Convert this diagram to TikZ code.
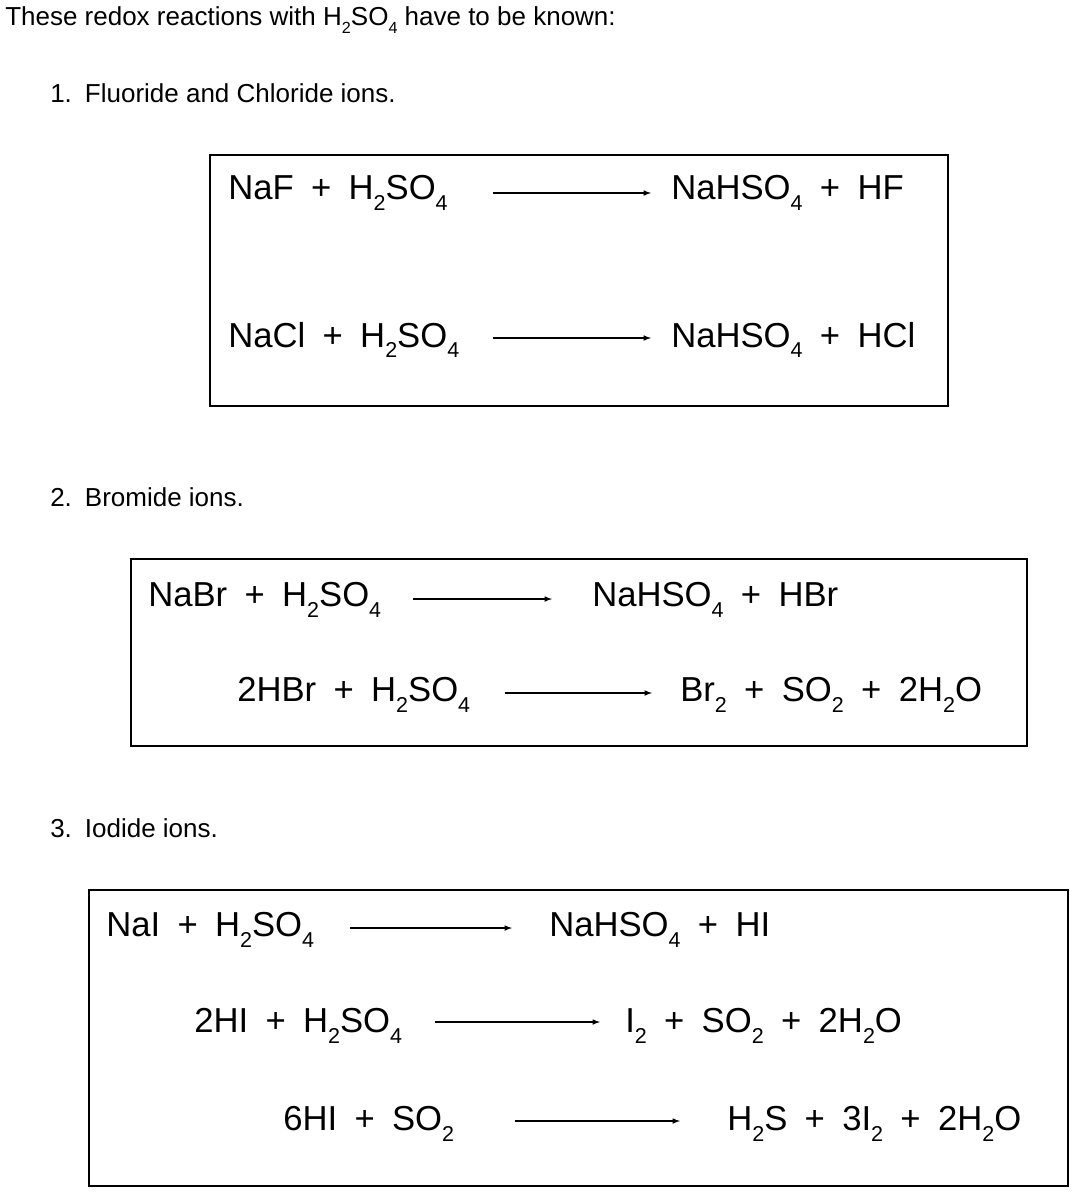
\documentclass[tikz,border=0pt]{standalone}
\usepackage{fontspec}
\setmainfont{Liberation Sans}
\newcommand\dn[1]{\raisebox{-0.3em}{\fontsize{0.62em}{0.7em}\selectfont #1}}
\begin{document}
\begin{tikzpicture}[x=0.75pt,y=-0.75pt]
\tikzset{hd/.style={anchor=west,inner sep=0pt,font=\fontsize{19.5}{23}\selectfont},
eq/.style={anchor=west,inner sep=0pt,font=\fontsize{26}{30}\selectfont},
bx/.style={draw,line width=1pt},
ar/.style={-latex,line width=0.9pt}}
\useasboundingbox (0,0) rectangle (1077,1200);
\node[hd] (h) at (5,20) {These redox reactions with H\dn{2}SO\dn{4} have to be known:};
\node[hd] (s1) at (50,93) {1.\enspace Fluoride and Chloride ions.};
\node[hd] (s2) at (50,497) {2.\enspace Bromide ions.};
\node[hd] (s3) at (50,828) {3.\enspace Iodide ions.};
\draw[bx] (210,155) rectangle (948,406);
\draw[bx] (131,559) rectangle (1027,746);
\draw[bx] (89,890) rectangle (1068,1186);
% box 1
\node[eq] (a1) at (228,193) {NaF\enspace+\enspace H\dn{2}SO\dn{4}};
\node[eq] (b1) at (671,193) {NaHSO\dn{4}\enspace+\enspace HF};
\coordinate (a1s) at (493,193); \coordinate (a1e) at (651,193);
\draw[ar] (a1s) -- (a1e);
\node[eq] (a2) at (228,340) {NaCl\enspace+\enspace H\dn{2}SO\dn{4}};
\node[eq] (b2) at (671,340) {NaHSO\dn{4}\enspace+\enspace HCl};
\coordinate (a2s) at (493,338); \coordinate (a2e) at (651,338);
\draw[ar] (a2s) -- (a2e);
% box 2
\node[eq] (a3) at (148,600) {NaBr\enspace+\enspace H\dn{2}SO\dn{4}};
\node[eq] (b3) at (592,600) {NaHSO\dn{4}\enspace+\enspace HBr};
\coordinate (a3s) at (413,599); \coordinate (a3e) at (552,599);
\draw[ar] (a3s) -- (a3e);
\node[eq] (a4) at (237,695) {2HBr\enspace+\enspace H\dn{2}SO\dn{4}};
\node[eq] (b4) at (680,695) {Br\dn{2}\enspace+\enspace SO\dn{2}\enspace+\enspace 2H\dn{2}O};
\coordinate (a4s) at (505,693); \coordinate (a4e) at (652,693);
\draw[ar] (a4s) -- (a4e);
% box 3
\node[eq] (a5) at (106,930) {NaI\enspace+\enspace H\dn{2}SO\dn{4}};
\node[eq] (b5) at (549,930) {NaHSO\dn{4}\enspace+\enspace HI};
\coordinate (a5s) at (350,928); \coordinate (a5e) at (512,928);
\draw[ar] (a5s) -- (a5e);
\node[eq] (a6) at (194,1026) {2HI\enspace+\enspace H\dn{2}SO\dn{4}};
\node[eq] (b6) at (625,1026) {I\dn{2}\enspace+\enspace SO\dn{2}\enspace+\enspace 2H\dn{2}O};
\coordinate (a6s) at (435,1022); \coordinate (a6e) at (600,1022);
\draw[ar] (a6s) -- (a6e);
\node[eq] (a7) at (283,1124) {6HI\enspace+\enspace SO\dn{2}};
\node[eq] (b7) at (727,1124) {H\dn{2}S\enspace+\enspace 3I\dn{2}\enspace+\enspace 2H\dn{2}O};
\coordinate (a7s) at (515,1121); \coordinate (a7e) at (680,1121);
\draw[ar] (a7s) -- (a7e);
\end{tikzpicture}
\end{document}
